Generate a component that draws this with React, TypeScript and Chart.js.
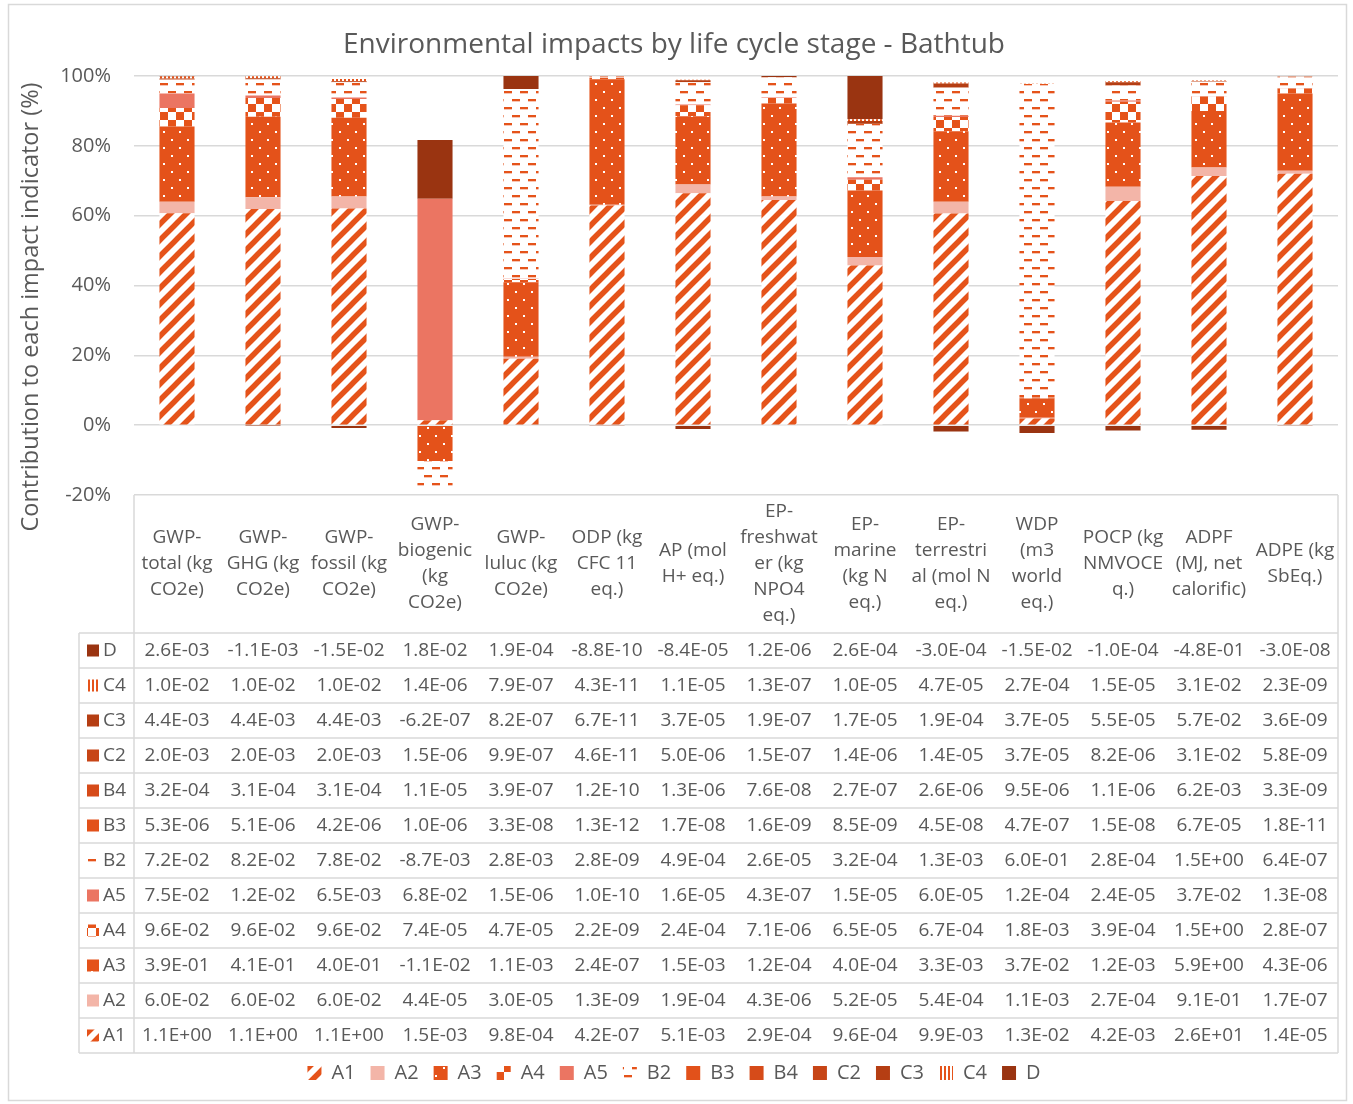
import React, { useEffect, useRef } from 'react';
import { Chart, registerables } from 'chart.js';

Chart.register(...registerables);

const FONT = "'Open Sans', sans-serif";
const TEXT = '#595959';
const GRID = '#d9d9d9';

const title = 'Environmental impacts by life cycle stage - Bathtub';
const yTitle = 'Contribution to each impact indicator (%)';

const categoryLines: string[][] = [
  ['GWP-', 'total (kg', 'CO2e)'],
  ['GWP-', 'GHG (kg', 'CO2e)'],
  ['GWP-', 'fossil (kg', 'CO2e)'],
  ['GWP-', 'biogenic', '(kg', 'CO2e)'],
  ['GWP-', 'luluc (kg', 'CO2e)'],
  ['ODP (kg', 'CFC 11', 'eq.)'],
  ['AP (mol', 'H+ eq.)'],
  ['EP-', 'freshwat', 'er (kg', 'NPO4', 'eq.)'],
  ['EP-', 'marine', '(kg N', 'eq.)'],
  ['EP-', 'terrestri', 'al (mol N', 'eq.)'],
  ['WDP', '(m3', 'world', 'eq.)'],
  ['POCP (kg', 'NMVOCE', 'q.)'],
  ['ADPF', '(MJ, net', 'calorific)'],
  ['ADPE (kg', 'SbEq.)'],
];

const stages = ['A1', 'A2', 'A3', 'A4', 'A5', 'B2', 'B3', 'B4', 'C2', 'C3', 'C4', 'D'];

const A1 = [1.1, 1.1, 1.1, 1.5e-3, 9.8e-4, 4.2e-7, 5.1e-3, 2.9e-4, 9.6e-4, 9.9e-3, 1.3e-2, 4.2e-3, 2.6e1, 1.4e-5];
const A2 = [6.0e-2, 6.0e-2, 6.0e-2, 4.4e-5, 3.0e-5, 1.3e-9, 1.9e-4, 4.3e-6, 5.2e-5, 5.4e-4, 1.1e-3, 2.7e-4, 9.1e-1, 1.7e-7];
const A3 = [3.9e-1, 4.1e-1, 4.0e-1, -1.1e-2, 1.1e-3, 2.4e-7, 1.5e-3, 1.2e-4, 4.0e-4, 3.3e-3, 3.7e-2, 1.2e-3, 5.9, 4.3e-6];
const A4 = [9.6e-2, 9.6e-2, 9.6e-2, 7.4e-5, 4.7e-5, 2.2e-9, 2.4e-4, 7.1e-6, 6.5e-5, 6.7e-4, 1.8e-3, 3.9e-4, 1.5, 2.8e-7];
const A5 = [7.5e-2, 1.2e-2, 6.5e-3, 6.8e-2, 1.5e-6, 1.0e-10, 1.6e-5, 4.3e-7, 1.5e-5, 6.0e-5, 1.2e-4, 2.4e-5, 3.7e-2, 1.3e-8];
const B2 = [7.2e-2, 8.2e-2, 7.8e-2, -8.7e-3, 2.8e-3, 2.8e-9, 4.9e-4, 2.6e-5, 3.2e-4, 1.3e-3, 6.0e-1, 2.8e-4, 1.5, 6.4e-7];
const B3 = [5.3e-6, 5.1e-6, 4.2e-6, 1.0e-6, 3.3e-8, 1.3e-12, 1.7e-8, 1.6e-9, 8.5e-9, 4.5e-8, 4.7e-7, 1.5e-8, 6.7e-5, 1.8e-11];
const B4 = [3.2e-4, 3.1e-4, 3.1e-4, 1.1e-5, 3.9e-7, 1.2e-10, 1.3e-6, 7.6e-8, 2.7e-7, 2.6e-6, 9.5e-6, 1.1e-6, 6.2e-3, 3.3e-9];
const C2 = [2.0e-3, 2.0e-3, 2.0e-3, 1.5e-6, 9.9e-7, 4.6e-11, 5.0e-6, 1.5e-7, 1.4e-6, 1.4e-5, 3.7e-5, 8.2e-6, 3.1e-2, 5.8e-9];
const C3 = [4.4e-3, 4.4e-3, 4.4e-3, -6.2e-7, 8.2e-7, 6.7e-11, 3.7e-5, 1.9e-7, 1.7e-5, 1.9e-4, 3.7e-5, 5.5e-5, 5.7e-2, 3.6e-9];
const C4 = [1.0e-2, 1.0e-2, 1.0e-2, 1.4e-6, 7.9e-7, 4.3e-11, 1.1e-5, 1.3e-7, 1.0e-5, 4.7e-5, 2.7e-4, 1.5e-5, 3.1e-2, 2.3e-9];
const D = [2.6e-3, -1.1e-3, -1.5e-2, 1.8e-2, 1.9e-4, -8.8e-10, -8.4e-5, 1.2e-6, 2.6e-4, -3.0e-4, -1.5e-2, -1.0e-4, -4.8e-1, -3.0e-8];

const stageValues = [A1, A2, A3, A4, A5, B2, B3, B4, C2, C3, C4, D];

const yMin = -20;
const yMax = 100;
const yStep = 20;

type Style = { kind: string; color: string };
const stageStyles: Style[] = [
  { kind: 'diag', color: '#E5531A' },
  { kind: 'solid', color: '#F3B5A8' },
  { kind: 'dots', color: '#E4521A' },
  { kind: 'checker', color: '#E5531A' },
  { kind: 'solid', color: '#EB7562' },
  { kind: 'dash', color: '#E5531A' },
  { kind: 'solid', color: '#E2511A' },
  { kind: 'solid', color: '#D64B19' },
  { kind: 'solid', color: '#C74516' },
  { kind: 'solid', color: '#B53E13' },
  { kind: 'vstripe', color: '#E5531A' },
  { kind: 'solid', color: '#9A3411' },
];

function makeFill(style: Style): CanvasPattern | string {
  if (style.kind === 'solid') return style.color;
  const size = style.kind === 'vstripe' ? 4 : 16;
  const c = document.createElement('canvas');
  c.width = size;
  c.height = size;
  const g = c.getContext('2d')!;
  g.fillStyle = '#ffffff';
  g.fillRect(0, 0, size, size);
  if (style.kind === 'diag') {
    g.strokeStyle = style.color;
    g.lineWidth = 5.5;
    g.beginPath();
    g.moveTo(-6, 6); g.lineTo(6, -6);
    g.moveTo(-6, 22); g.lineTo(22, -6);
    g.moveTo(10, 22); g.lineTo(22, 10);
    g.stroke();
  } else if (style.kind === 'dots') {
    g.fillStyle = style.color;
    g.fillRect(0, 0, size, size);
    g.fillStyle = '#ffffff';
    g.fillRect(3, 3, 2, 2);
    g.fillRect(11, 11, 2, 2);
  } else if (style.kind === 'checker') {
    g.fillStyle = style.color;
    g.fillRect(0, 0, 8, 8);
    g.fillRect(8, 8, 8, 8);
  } else if (style.kind === 'dash') {
    g.fillStyle = style.color;
    g.fillRect(0, 3, 8, 2);
    g.fillRect(8, 11, 8, 2);
    g.fillStyle = '#F7C6B5';
    g.fillRect(0, 5, 8, 1);
    g.fillRect(8, 13, 8, 1);
  } else if (style.kind === 'vstripe') {
    g.fillStyle = style.color;
    g.fillRect(0, 0, 2, size);
  }
  return g.createPattern(c, 'repeat') as CanvasPattern;
}

function fmt(v: number): string {
  const [m, e] = v.toExponential(1).split('e');
  const sign = e[0] === '-' ? '-' : '+';
  const digits = e.replace(/^[+-]/, '').padStart(2, '0');
  return `${m}E${sign}${digits}`;
}

const HEADER_H = 138;
const ROW_H = 35;
const KEY_LEFT = 79;

export default function App() {
  const ref = useRef<HTMLCanvasElement | null>(null);

  useEffect(() => {
    if (!ref.current) return;
    const fills = stageStyles.map(makeFill);
    const nCat = categoryLines.length;
    const sumAbs = Array.from({ length: nCat }, (_, j) =>
      stageValues.reduce((s, arr) => s + Math.abs(arr[j]), 0)
    );
    const datasets = stages.map((name, i) => ({
      label: name,
      data: stageValues[i].map((v, j) => (v / sumAbs[j]) * 100),
      backgroundColor: fills[i] as any,
      borderWidth: 0,
      stack: 'all',
      barPercentage: 1,
      categoryPercentage: 0.408,
    }));

    const tablePlugin = {
      id: 'dataTable',
      beforeDraw(chart: any) {
        const ctx = chart.ctx;
        ctx.save();
        ctx.fillStyle = '#ffffff';
        ctx.fillRect(0, 0, chart.width, chart.height);
        ctx.strokeStyle = GRID;
        ctx.lineWidth = 1.5;
        ctx.strokeRect(8.5, 4.5, 1338, 1096);
        ctx.restore();
      },
      afterDraw(chart: any) {
        const ctx: CanvasRenderingContext2D = chart.ctx;
        const area = chart.chartArea;
        const xs = chart.scales.x;
        const left = area.left;
        const right = area.right;
        const top = area.bottom;
        const hb = top + HEADER_H;
        const bottom = hb + ROW_H * stages.length;
        ctx.save();
        ctx.strokeStyle = GRID;
        ctx.lineWidth = 1.5;
        ctx.beginPath();
        ctx.moveTo(KEY_LEFT, hb); ctx.lineTo(KEY_LEFT, bottom);
        ctx.moveTo(left, top); ctx.lineTo(left, bottom);
        ctx.moveTo(right, top); ctx.lineTo(right, bottom);
        for (let k = 0; k <= stages.length; k++) {
          const y = hb + k * ROW_H;
          ctx.moveTo(KEY_LEFT, y); ctx.lineTo(right, y);
        }
        ctx.stroke();
        ctx.fillStyle = TEXT;
        ctx.font = `19px ${FONT}`;
        ctx.textAlign = 'center';
        ctx.textBaseline = 'middle';
        const hc = top + HEADER_H / 2;
        categoryLines.forEach((lines, j) => {
          const cx = xs.getPixelForValue(j);
          lines.forEach((ln, k) => {
            ctx.fillText(ln, cx, hc + (k - (lines.length - 1) / 2) * 26);
          });
        });
        const order = stages.map((_, i) => stages.length - 1 - i);
        order.forEach((si, r) => {
          const cy = hb + r * ROW_H + ROW_H / 2;
          ctx.fillStyle = fills[si] as any;
          ctx.fillRect(KEY_LEFT + 8, cy - 6, 12, 12);
          ctx.fillStyle = TEXT;
          ctx.textAlign = 'left';
          ctx.fillText(stages[si], KEY_LEFT + 24, cy);
          ctx.textAlign = 'center';
          stageValues[si].forEach((v, j) => {
            ctx.fillText(fmt(v), xs.getPixelForValue(j), cy);
          });
        });
        ctx.save();
        ctx.translate(31, 307);
        ctx.rotate(-Math.PI / 2);
        ctx.font = `23.5px ${FONT}`;
        ctx.textAlign = 'center';
        ctx.textBaseline = 'middle';
        ctx.fillStyle = TEXT;
        ctx.fillText(yTitle, 0, 0);
        ctx.restore();
        ctx.restore();
      },
    };

    const chart = new Chart(ref.current, {
      type: 'bar',
      data: {
        labels: categoryLines.map((l) => l.join(' ')),
        datasets: datasets as any,
      },
      options: {
        responsive: false,
        animation: false,
        events: [],
        layout: { padding: { top: 10, left: 10, right: 15, bottom: 11 } },
        plugins: {
          title: {
            display: true,
            text: title,
            color: TEXT,
            font: { family: FONT, size: 28, weight: 'normal' as any },
            padding: { top: 18, bottom: 14.4 },
          },
          legend: {
            display: true,
            position: 'bottom',
            labels: {
              boxWidth: 14,
              boxHeight: 14,
              padding: 15,
              color: TEXT,
              font: { family: FONT, size: 20 },
            },
          },
          tooltip: { enabled: false },
        },
        scales: {
          x: {
            stacked: true,
            ticks: { display: false },
            grid: { display: false },
            border: { display: false },
            afterFit: (s: any) => {
              s.height = 553;
            },
          },
          y: {
            stacked: true,
            min: yMin,
            max: yMax,
            ticks: {
              stepSize: yStep,
              padding: 23,
              color: TEXT,
              font: { family: FONT, size: 20 },
              callback: (v: any) => `${v}%`,
            },
            grid: { color: GRID, lineWidth: 1.5, drawTicks: false },
            border: { display: false },
            afterFit: (s: any) => {
              s.width = 124;
            },
          },
        },
      },
      plugins: [tablePlugin],
    });
    return () => chart.destroy();
  }, []);

  return (
    <div style={{ position: 'absolute', left: 0, top: 0, width: 1353, height: 1104 }}>
      <canvas ref={ref} width={1353} height={1104} style={{ display: 'block' }} />
    </div>
  );
}
